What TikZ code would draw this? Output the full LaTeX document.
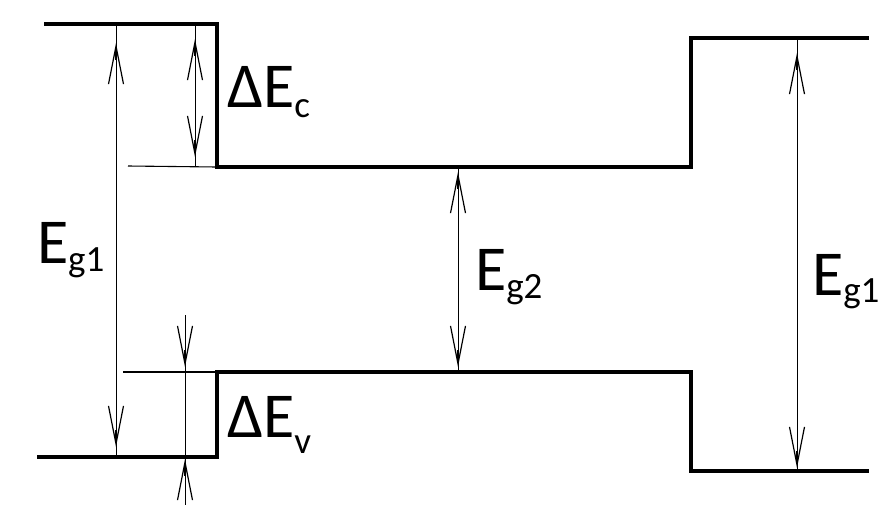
\documentclass[tikz,border=0pt]{standalone}
\usepackage{fontspec}
\setmainfont{Carlito}
\usetikzlibrary{arrows.meta}
\newcommand{\bigtxt}[1]{{\fontsize{64}{64}\selectfont #1}}
\newcommand{\lblsub}[2]{\raisebox{-#1pt}{\fontsize{37}{37}\selectfont #2}}
\begin{document}
\begin{tikzpicture}[x=1pt,y=-1pt,
  band/.style={line width=3.6pt,line cap=rect,line join=miter},
  thin/.style={line width=1.1pt},
  dim/.style={line width=1pt},
  head/.style={-{Straight Barb[length=38pt,width=15pt,line width=1.2pt]},line width=1.6pt},
  lbl/.style={anchor=base west,inner sep=0pt,outer sep=0pt}]
\useasboundingbox (0,0) rectangle (892,507);
% conduction band
\coordinate (c1) at (46,24);
\coordinate (c2) at (217,24);
\coordinate (c3) at (217,167);
\coordinate (c4) at (691,167);
\coordinate (c5) at (691,38);
\coordinate (c6) at (867,38);
\draw[band] (c1) -- (c2) -- (c3) -- (c4) -- (c5) -- (c6);
% valence band
\coordinate (v1) at (39,457);
\coordinate (v2) at (217,457);
\coordinate (v3) at (217,372);
\coordinate (v4) at (691,372);
\coordinate (v5) at (691,471);
\coordinate (v6) at (867,471);
\draw[band] (v1) -- (v2) -- (v3) -- (v4) -- (v5) -- (v6);
% thin extension lines
\coordinate (t1) at (128,166);
\coordinate (t2) at (123,372);
\draw[thin] (t1) -- (c3);
\draw[thin] (t2) -- (v3);
% left Eg1
\coordinate (a1t) at (116,24);
\coordinate (a1b) at (116,457);
\coordinate (a1m) at (116,240);
\coordinate (a1u) at (116,43);
\coordinate (a1d) at (116,447);
\coordinate (a1us) at (116,60);
\coordinate (a1ds) at (116,430);
\draw[dim] (a1t) -- (a1b);
\draw[head] (a1us) -- (a1u);
\draw[head] (a1ds) -- (a1d);
% Delta Ec
\coordinate (a2t) at (195,24);
\coordinate (a2b) at (195,166);
\coordinate (a2u) at (195,39);
\coordinate (a2d) at (195,157);
\coordinate (a2us) at (195,56);
\coordinate (a2ds) at (195,140);
\draw[dim] (a2t) -- (a2b);
\draw[head] (a2us) -- (a2u);
\draw[head] (a2ds) -- (a2d);
% Delta Ev
\coordinate (a3t) at (185,315);
\coordinate (a3b) at (185,505);
\coordinate (a3d) at (185,367);
\coordinate (a3u) at (185,459);
\coordinate (a3ds) at (185,350);
\coordinate (a3us) at (185,476);
\draw[dim] (a3t) -- (a3b);
\draw[head] (a3ds) -- (a3d);
\draw[head] (a3us) -- (a3u);
% Eg2
\coordinate (a4t) at (458,167);
\coordinate (a4b) at (458,372);
\coordinate (a4u) at (458,172);
\coordinate (a4d) at (458,367);
\coordinate (a4us) at (458,189);
\coordinate (a4ds) at (458,350);
\draw[dim] (a4t) -- (a4b);
\draw[head] (a4us) -- (a4u);
\draw[head] (a4ds) -- (a4d);
% right Eg1
\coordinate (a5t) at (797,38);
\coordinate (a5b) at (797,471);
\coordinate (a5u) at (797,53);
\coordinate (a5d) at (797,468);
\coordinate (a5us) at (797,70);
\coordinate (a5ds) at (797,451);
\draw[dim] (a5t) -- (a5b);
\draw[head] (a5us) -- (a5u);
\draw[head] (a5ds) -- (a5d);
% labels
\node[lbl] (l1) at (37,263) {\bigtxt{E}\lblsub{8}{g1}};
\node[lbl] (l2) at (227,107) {\bigtxt{ΔE}\lblsub{10}{c}};
\node[lbl] (l3) at (227,437) {\bigtxt{ΔE}\lblsub{16}{v}};
\node[lbl] (l4) at (475,290) {\bigtxt{E}\lblsub{8}{g2}};
\node[lbl] (l5) at (812,295) {\bigtxt{E}\lblsub{7}{g1}};
\end{tikzpicture}
\end{document}
